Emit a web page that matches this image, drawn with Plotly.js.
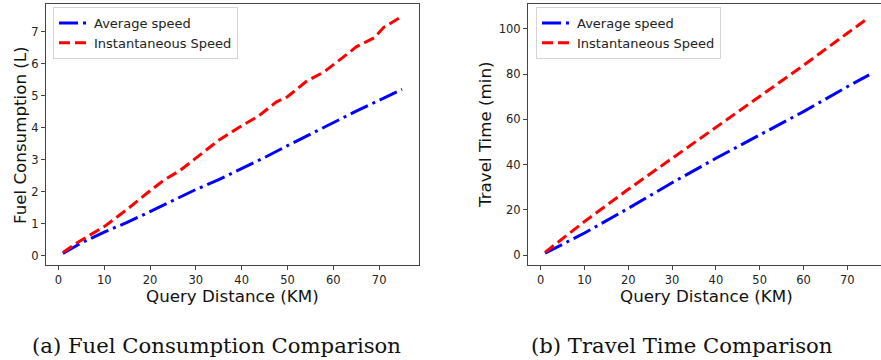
<!DOCTYPE html>
<html><head><meta charset="utf-8">
<script src="https://cdn.plot.ly/plotly-3.0.1.min.js"></script>
<style>html,body{margin:0;padding:0;background:#fff;overflow:hidden}#chart{width:881px;height:360px}</style>
</head><body><div id="chart"></div><script>
// (a) Fuel consumption (L) vs query distance (km)
const fuelAvgX = [1, 5, 10, 15, 20, 25, 30, 35, 40, 45, 50, 55, 60, 65, 70, 75];
const fuelAvgY = [0.07, 0.40, 0.74, 1.04, 1.38, 1.72, 2.07, 2.38, 2.72, 3.07, 3.44, 3.80, 4.17, 4.52, 4.86, 5.20];
const fuelInstX = [1, 4, 10, 15, 20, 23, 26.5, 30, 35, 39.3, 43.6, 47.6, 50, 54, 58, 63, 65, 69, 71, 74.6];
const fuelInstY = [0.10, 0.40, 0.91, 1.45, 2.03, 2.36, 2.66, 3.04, 3.61, 4.00, 4.36, 4.81, 4.97, 5.44, 5.75, 6.30, 6.53, 6.82, 7.14, 7.45];
// (b) Travel time (min) vs query distance (km)
const timeAvgX = [1, 10, 20, 30, 40, 50, 60, 70, 75];
const timeAvgY = [0.9, 9.8, 20.7, 32.0, 42.8, 53.0, 63.4, 74.4, 79.6];
const timeInstX = [1, 10, 20, 30, 35, 40, 50, 60, 70, 74.7];
const timeInstY = [1.3, 14.9, 29.1, 42.8, 49.7, 56.8, 70.2, 83.8, 98.0, 104.6];

const xTicks = [0, 10, 20, 30, 40, 50, 60, 70];
const fuelTicks = [0, 1, 2, 3, 4, 5, 6, 7];
const timeTicks = [0, 20, 40, 60, 80, 100];

const seriesNames = ['Average speed', 'Instantaneous Speed'];
const captions = ['(a) Fuel Consumption Comparison', '(b) Travel Time Comparison'];
const xTitle = 'Query Distance (KM)';
const yTitles = ['Fuel Consumption (L)', 'Travel Time (min)'];

const avgLine = {color: '#0000ff', width: 3, dash: '19px,5px,3px,5px'};
const instLine = {color: '#ff0000', width: 3, dash: '11px,5px'};

const traces = [
  {x: fuelAvgX, y: fuelAvgY, xaxis: 'x', yaxis: 'y', name: seriesNames[0], mode: 'lines', line: avgLine, legend: 'legend'},
  {x: fuelInstX, y: fuelInstY, xaxis: 'x', yaxis: 'y', name: seriesNames[1], mode: 'lines', line: instLine, legend: 'legend'},
  {x: timeAvgX, y: timeAvgY, xaxis: 'x2', yaxis: 'y2', name: seriesNames[0], mode: 'lines', line: avgLine, legend: 'legend2'},
  {x: timeInstX, y: timeInstY, xaxis: 'x2', yaxis: 'y2', name: seriesNames[1], mode: 'lines', line: instLine, legend: 'legend2'}
];

const tickFont = {family: 'DejaVu Sans', size: 11.5, color: '#222'};
const axBase = {showgrid: false, zeroline: false, showline: true, linecolor: '#444', linewidth: 1,
  ticks: 'outside', ticklen: 4, tickwidth: 1, tickcolor: '#444', tickfont: tickFont, fixedrange: true};
const legBase = {xanchor: 'left', yanchor: 'top', bgcolor: 'rgba(255,255,255,0.85)', bordercolor: '#d4d4d4',
  borderwidth: 1, font: {family: 'DejaVu Sans', size: 13, color: '#222'}, tracegroupgap: 0};

const H = 360, W = 881;
const titleFont = {family: 'DejaVu Sans', size: 16.7, color: '#111'};
const capFont = {family: 'DejaVu Serif', size: 21.2, color: '#111'};

const layout = {
  width: W, height: H, margin: {l: 0, r: 0, t: 0, b: 0},
  paper_bgcolor: '#fff', plot_bgcolor: '#fff', showlegend: true,
  xaxis: Object.assign({}, axBase, {domain: [46 / W, 419 / W], range: [-2.7, 78.7], tickvals: xTicks, mirror: true, anchor: 'y'}),
  yaxis: Object.assign({}, axBase, {domain: [(H - 265) / H, (H - 4) / H], range: [-0.29, 7.87], tickvals: fuelTicks, mirror: true, anchor: 'x'}),
  xaxis2: Object.assign({}, axBase, {domain: [528 / W, 1], range: [-2.9, 77.7], tickvals: xTicks, mirror: true, anchor: 'y2'}),
  yaxis2: Object.assign({}, axBase, {domain: [(H - 265) / H, (H - 4) / H], range: [-4.3, 110.9], tickvals: timeTicks, mirror: false, anchor: 'x2'}),
  legend: Object.assign({}, legBase, {x: 53 / W, y: (H - 7) / H}),
  legend2: Object.assign({}, legBase, {x: 536 / W, y: (H - 7) / H}),
  annotations: [
    {text: xTitle, xref: 'paper', yref: 'paper', x: 232.5 / W, y: (H - 295.5) / H, xanchor: 'center', yanchor: 'middle', showarrow: false, font: titleFont},
    {text: xTitle, xref: 'paper', yref: 'paper', x: 706.5 / W, y: (H - 295.5) / H, xanchor: 'center', yanchor: 'middle', showarrow: false, font: titleFont},
    {text: yTitles[0], xref: 'paper', yref: 'paper', x: 20 / W, y: (H - 135) / H, xanchor: 'center', yanchor: 'middle', textangle: -90, showarrow: false, font: titleFont},
    {text: yTitles[1], xref: 'paper', yref: 'paper', x: 485 / W, y: (H - 135) / H, xanchor: 'center', yanchor: 'middle', textangle: -90, showarrow: false, font: titleFont},
    {text: captions[0], xref: 'paper', yref: 'paper', x: 216 / W, y: (H - 345) / H, xanchor: 'center', yanchor: 'middle', showarrow: false, font: capFont},
    {text: captions[1], xref: 'paper', yref: 'paper', x: 682 / W, y: (H - 345) / H, xanchor: 'center', yanchor: 'middle', showarrow: false, font: capFont}
  ]
};

Plotly.newPlot('chart', traces, layout, {staticPlot: true, displayModeBar: false});
</script></body></html>
